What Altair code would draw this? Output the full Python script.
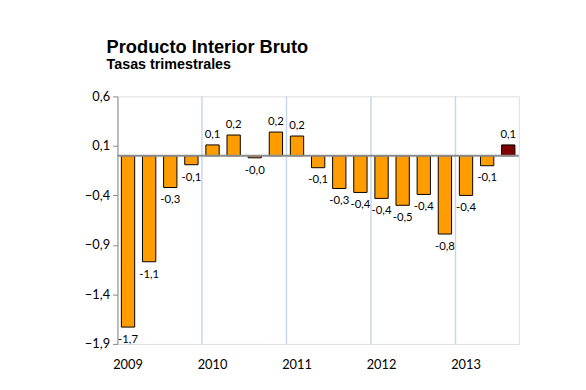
import altair as alt
import pandas as pd

quarters = ["2009-T1", "2009-T2", "2009-T3", "2009-T4",
            "2010-T1", "2010-T2", "2010-T3", "2010-T4",
            "2011-T1", "2011-T2", "2011-T3", "2011-T4",
            "2012-T1", "2012-T2", "2012-T3", "2012-T4",
            "2013-T1", "2013-T2", "2013-T3"]
values = [-1.73, -1.07, -0.32, -0.09, 0.11, 0.21, -0.02, 0.24, 0.20, -0.12,
          -0.33, -0.37, -0.43, -0.50, -0.39, -0.79, -0.40, -0.10, 0.11]
labels = ["-1,7", "-1,1", "-0,3", "-0,1", "0,1", "0,2", "-0,0", "0,2", "0,2", "-0,1",
          "-0,3", "-0,4", "-0,4", "-0,5", "-0,4", "-0,8", "-0,4", "-0,1", "0,1"]
highlight = [False] * 18 + [True]
y_ticks = [-1.9, -1.4, -0.9, -0.4, 0.1, 0.6]
year_starts = ["2010-T1", "2011-T1", "2012-T1", "2013-T1"]

df = pd.DataFrame({"q": quarters, "v": values, "lab": labels, "hl": highlight})
seps = pd.DataFrame({"q": year_starts})

FONT = "Lato"

x_axis = alt.Axis(title=None, labelAngle=0, ticks=False, domain=False, bandPosition=0.5,
                  labelPadding=15, labelFontSize=13, labelFont=FONT,
                  labelColor="black",
                  labelExpr="indexof(datum.value,'T1')>=0 ? slice(datum.value,0,4) : ''")
x_enc = alt.X("q:N", sort=quarters,
              scale=alt.Scale(domain=quarters, paddingInner=0, paddingOuter=0),
              axis=x_axis)
y_scale = alt.Scale(domain=[-1.9, 0.6], nice=False, zero=False)
y_enc = alt.Y("v:Q", scale=y_scale,
              axis=alt.Axis(title=None, values=y_ticks, grid=False, domainColor="#8a8a8a",
                            tickColor="#8a8a8a", tickSize=5, labelPadding=3,
                            labelFontSize=13, labelFont=FONT, labelColor="black",
                            labelExpr="replace(format(datum.value,'.1f'),'.',',')"))

base = alt.Chart(df)

bars = base.mark_bar(width=alt.RelativeBandSize(0.63), stroke="black", strokeWidth=1).encode(
    x=x_enc,
    y=y_enc,
    y2=alt.datum(0),
    color=alt.Color("hl:N", scale=alt.Scale(domain=[False, True], range=["#ff9c00", "#7f0000"]),
                    legend=None),
)

sep_rules = alt.Chart(seps).mark_rule(color="#c8d6ea", strokeWidth=1.5).encode(
    x=alt.X("q:N", sort=quarters, bandPosition=0, axis=x_axis)
)

zero = alt.Chart(df).mark_rule(color="#8c8c8c", strokeWidth=2).encode(
    y=alt.datum(0)
).transform_filter("datum.q == '2009-T1'")

pos_text = base.transform_filter("datum.v >= 0").mark_text(
    baseline="bottom", dy=-5, fontSize=11.5, font=FONT, color="black"
).encode(x="q:N", y="v:Q", text="lab:N")

neg_text = base.transform_filter("datum.v < 0").mark_text(
    baseline="top", dy=7, fontSize=11.5, font=FONT, color="black"
).encode(x="q:N", y="v:Q", text="lab:N")

chart = alt.layer(bars, sep_rules, zero, pos_text, neg_text).properties(
    width=407, height=251,
    autosize=alt.AutoSizeParams(type="none"),
    padding={"left": 111, "top": 87, "right": 60, "bottom": 40},
    title=alt.TitleParams(
        text="Producto Interior Bruto", subtitle="Tasas trimestrales",
        anchor="start", frame="group", dx=-11, offset=19,
        font="Liberation Sans", fontSize=18.5, fontWeight="bold", color="black",
        subtitleFont="Liberation Sans", subtitleFontSize=14.5, subtitleFontWeight="bold",
        subtitleColor="black", subtitlePadding=2,
    ),
).configure_view(stroke=None).configure(background="white")

chart.save("out.html", embed_options={"renderer": "svg", "actions": False})
